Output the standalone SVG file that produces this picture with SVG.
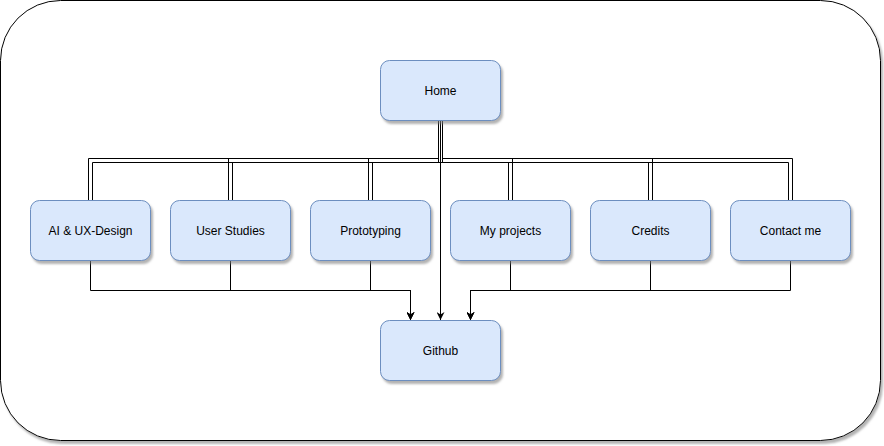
<svg xmlns="http://www.w3.org/2000/svg" width="884" height="446" viewBox="0 0 884 446">
  <defs>
    <filter id="shadow" x="-10%" y="-10%" width="130%" height="130%">
      <feDropShadow dx="2" dy="3" stdDeviation="0.8" flood-color="#808080" flood-opacity="0.6"/>
    </filter>
    <marker id="arrow" viewBox="0 0 10 10" refX="10" refY="5" markerWidth="8" markerHeight="8" markerUnits="userSpaceOnUse" orient="auto">
      <path d="M10,5 L0,0 L3,5 L0,10 Z" fill="#000"/>
    </marker>
    <style>
      .node rect { fill: #dae8fc; stroke: #6c8ebf; stroke-width: 1; filter: url(#shadow); }
      .node text { font-family: "Liberation Sans", Arial, Helvetica, sans-serif; font-size: 12px; fill: #000; text-anchor: middle; dominant-baseline: central; }
      .link { fill: none; stroke: #000; stroke-width: 1; }
      .arrowed { fill: none; stroke: #000; stroke-width: 1; marker-end: url(#arrow); }
    </style>
  </defs>

  <!-- outer frame -->
  <rect x="0.5" y="0.5" width="880" height="440" rx="60" ry="60" fill="#fff" stroke="#000" stroke-width="1" filter="url(#shadow)"/>

  <g id="connectors">
    <!-- double-line links from Home to each section -->
    <path class="link" d="M438.5,120 V158.5 H88.5 V200 M442.5,120 V162.5 H92.5 V200"/>
    <path class="link" d="M438.5,120 V158.5 H228.5 V200 M442.5,120 V162.5 H232.5 V200"/>
    <path class="link" d="M438.5,120 V158.5 H368.5 V200 M442.5,120 V162.5 H372.5 V200"/>
    <path class="link" d="M442.5,120 V158.5 H512.5 V200 M438.5,120 V162.5 H508.5 V200"/>
    <path class="link" d="M442.5,120 V158.5 H652.5 V200 M438.5,120 V162.5 H648.5 V200"/>
    <path class="link" d="M442.5,120 V158.5 H792.5 V200 M438.5,120 V162.5 H788.5 V200"/>

    <!-- Home straight to Github -->
    <path class="arrowed" d="M440.5,120 V320"/>

    <!-- sections into Github -->
    <path class="arrowed" d="M90.5,260 V290.5 H410.5 V320"/>
    <path class="arrowed" d="M230.5,260 V290.5 H410.5 V320"/>
    <path class="arrowed" d="M370.5,260 V290.5 H410.5 V320"/>
    <path class="arrowed" d="M510.5,260 V290.5 H470.5 V320"/>
    <path class="arrowed" d="M650.5,260 V290.5 H470.5 V320"/>
    <path class="arrowed" d="M790.5,260 V290.5 H470.5 V320"/>
  </g>

  <g id="home" class="node">
    <rect x="380.5" y="60.5" width="120" height="60" rx="9" ry="9"/>
    <text x="440.5" y="91">Home</text>
  </g>
  <g id="ai-ux-design" class="node">
    <rect x="30.5" y="200.5" width="120" height="60" rx="9" ry="9"/>
    <text x="90.5" y="231">AI &amp; UX-Design</text>
  </g>
  <g id="user-studies" class="node">
    <rect x="170.5" y="200.5" width="120" height="60" rx="9" ry="9"/>
    <text x="230.5" y="231">User Studies</text>
  </g>
  <g id="prototyping" class="node">
    <rect x="310.5" y="200.5" width="120" height="60" rx="9" ry="9"/>
    <text x="370.5" y="231">Prototyping</text>
  </g>
  <g id="my-projects" class="node">
    <rect x="450.5" y="200.5" width="120" height="60" rx="9" ry="9"/>
    <text x="510.5" y="231">My projects</text>
  </g>
  <g id="credits" class="node">
    <rect x="590.5" y="200.5" width="120" height="60" rx="9" ry="9"/>
    <text x="650.5" y="231">Credits</text>
  </g>
  <g id="contact-me" class="node">
    <rect x="730.5" y="200.5" width="120" height="60" rx="9" ry="9"/>
    <text x="790.5" y="231">Contact me</text>
  </g>
  <g id="github" class="node">
    <rect x="380.5" y="320.5" width="120" height="60" rx="9" ry="9"/>
    <text x="440.5" y="351">Github</text>
  </g>
</svg>
